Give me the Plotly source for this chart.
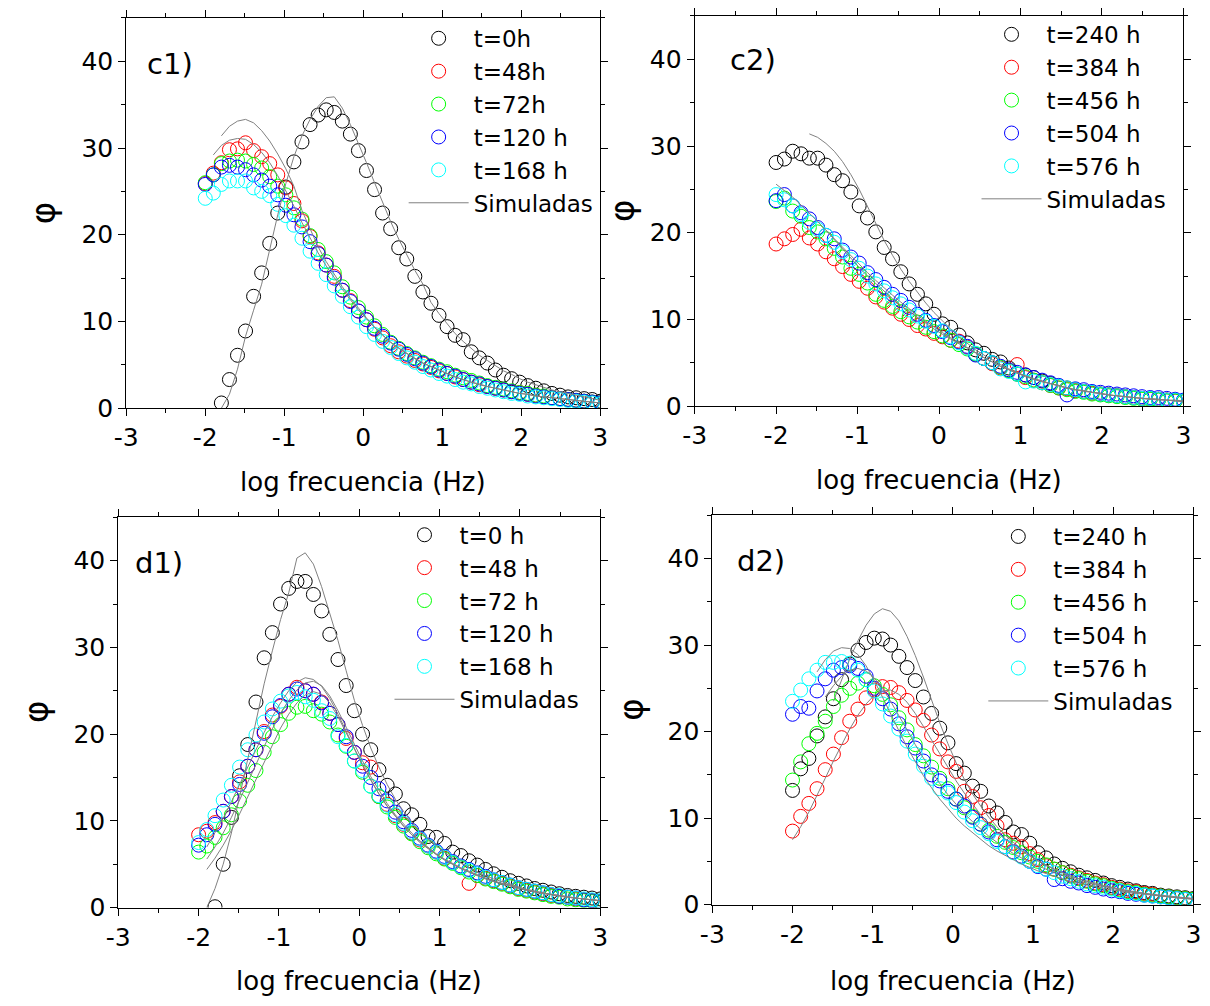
import plotly.graph_objects as go
from plotly.subplots import make_subplots

# log frequency grid shared by every data set (50 points, -2 .. 3)
X = [-2.0, -1.898, -1.796, -1.694, -1.592, -1.49, -1.388, -1.286, -1.184, -1.082,
     -0.98, -0.878, -0.776, -0.673, -0.571, -0.469, -0.367, -0.265, -0.163, -0.061,
     0.041, 0.143, 0.245, 0.347, 0.449, 0.551, 0.653, 0.755, 0.857, 0.959,
     1.061, 1.163, 1.265, 1.367, 1.469, 1.571, 1.673, 1.776, 1.878, 1.98,
     2.082, 2.184, 2.286, 2.388, 2.49, 2.592, 2.694, 2.796, 2.898, 3.0]

XTICKS = [-3, -2, -1, 0, 1, 2, 3]
XTICK_TEXT = ['-3', '-2', '-1', '0', '1', '2', '3']
YTICKS = [0, 10, 20, 30, 40]

# ---------------- c1 ----------------
C1_LABELS = ['t=0h', 't=48h', 't=72h', 't=120 h', 't=168 h']
C1_T0 = [None, None, 0.6, 3.3, 6.1, 8.9, 12.9, 15.6, 19.0, 22.5,
         25.5, 28.4, 30.7, 32.7, 33.8, 34.4, 34.1, 33.1, 31.6, 29.7,
         27.4, 25.2, 22.5, 20.7, 18.5, 17.2, 15.2, 13.4, 12.1, 10.7,
         9.4, 8.4, 7.9, 6.5, 5.8, 5.2, 4.4, 3.8, 3.4, 3.0,
         2.6, 2.3, 2.0, 1.7, 1.5, 1.3, 1.2, 1.1, 1.0, 0.8]
C1_T48 = [25.9, 27.1, 28.3, 29.8, 29.9, 30.6, 29.7, 29.0, 28.2, 26.9,
          25.4, 23.6, 21.6, 19.8, 17.9, 16.5, 15.2, 13.6, 12.4, 11.2,
          10.2, 9.1, 8.1, 7.2, 6.5, 6.0, 5.5, 5.1, 4.7, 4.3,
          4.0, 3.6, 3.3, 3.0, 2.7, 2.5, 2.3, 2.1, 1.9, 1.8,
          1.6, 1.5, 1.3, 1.2, 1.1, 1.0, 0.9, 0.8, 0.7, 0.6]
C1_T72 = [26.0, 26.9, 28.2, 28.5, 28.6, 28.5, 28.1, 27.7, 26.7, 25.6,
          24.6, 23.1, 21.8, 19.9, 18.3, 16.9, 15.6, 14.0, 12.8, 11.6,
          10.5, 9.5, 8.5, 7.6, 6.9, 6.3, 5.8, 5.3, 4.9, 4.5,
          4.2, 3.8, 3.5, 3.2, 2.9, 2.6, 2.4, 2.2, 2.0, 1.8,
          1.7, 1.5, 1.4, 1.2, 1.1, 1.0, 0.9, 0.8, 0.7, 0.6]
C1_T120 = [25.8, 26.9, 27.8, 28.0, 27.8, 27.5, 26.9, 26.3, 25.6, 24.6,
           23.4, 22.3, 20.9, 19.2, 17.8, 16.5, 15.0, 13.6, 12.3, 11.2,
           10.2, 9.2, 8.3, 7.5, 6.8, 6.2, 5.7, 5.2, 4.8, 4.4,
           4.0, 3.7, 3.3, 3.0, 2.8, 2.5, 2.3, 2.1, 1.9, 1.7,
           1.6, 1.4, 1.3, 1.2, 1.1, 1.0, 0.9, 0.8, 0.7, 0.6]
C1_T168 = [24.2, 24.8, 25.8, 26.2, 26.2, 26.2, 25.4, 25.0, 24.5, 23.5,
           22.2, 21.1, 19.6, 18.1, 16.7, 15.4, 14.1, 12.9, 11.7, 10.5,
           9.4, 8.5, 7.7, 7.0, 6.3, 5.8, 5.3, 4.8, 4.4, 4.0,
           3.7, 3.3, 3.0, 2.8, 2.5, 2.3, 2.1, 1.9, 1.7, 1.6,
           1.4, 1.3, 1.2, 1.1, 1.0, 0.9, 0.8, 0.7, 0.6, 0.5]
C1_SIM_T0 = [None, None, 0.0, 1.6, 4.5, 8.3, 11.3, 14.3, 18.3, 22.3,
             25.9, 29.0, 31.4, 33.3, 34.8, 35.8, 35.9, 34.6, 32.7, 30.6,
             28.3, 26.0, 23.7, 21.5, 19.5, 17.6, 15.9, 14.3, 12.2, 10.9,
             9.7, 8.6, 7.7, 6.9, 6.1, 5.5, 4.9, 4.3, 3.9, 3.4,
             3.0, 2.7, 2.4, 2.1, 1.9, 1.7, 1.5, 1.3, 1.1, 0.9]
C1_SIM_T48 = [None, None, 31.4, 32.5, 33.1, 33.3, 32.9, 32.0, 30.8, 29.3,
              27.6, 25.6, 22.8, 20.6, 18.6, 16.9, 15.4, 14.0, 12.7, 11.5,
              10.4, 9.3, 8.4, 7.6, 6.9, 6.3, 5.7, 5.2, 4.8, 4.4,
              4.0, 3.6, 3.3, 3.0, 2.8, 2.5, 2.3, 2.1, 1.9, 1.7,
              1.6, 1.4, 1.3, 1.2, 1.1, 1.0, 0.9, 0.8, 0.7, 0.6]
C1_SIM_T72 = [None, 29.2, 30.3, 30.9, 31.1, 31.0, 30.4, 29.5, 28.3, 26.8,
              25.1, 23.3, 21.4, 19.6, 17.9, 16.4, 15.0, 13.7, 12.5, 11.3,
              10.3, 9.3, 8.4, 7.6, 6.9, 6.3, 5.7, 5.2, 4.8, 4.4,
              4.0, 3.6, 3.3, 3.0, 2.7, 2.5, 2.3, 2.1, 1.9, 1.7,
              1.6, 1.4, 1.3, 1.2, 1.1, 1.0, 0.9, 0.8, 0.7, 0.6]

# ---------------- c2 ----------------
C2_LABELS = ['t=240 h', 't=384 h', 't=456 h', 't=504 h', 't=576 h']
C2_T240 = [28.1, 28.5, 29.4, 29.1, 28.6, 28.6, 27.8, 26.7, 26.0, 24.7,
           23.1, 21.7, 20.1, 18.3, 17.0, 15.5, 14.1, 12.9, 11.8, 10.6,
           9.5, 9.1, 8.2, 7.3, 6.5, 6.1, 5.4, 5.1, 4.4, 3.7,
           3.6, 3.3, 2.9, 2.6, 2.3, 2.1, 1.9, 1.7, 1.6, 1.4,
           1.3, 1.2, 1.1, 1.0, 0.9, 0.9, 0.8, 0.7, 0.7, 0.6]
C2_T384 = [18.7, 19.3, 19.8, 20.4, 19.4, 18.7, 17.8, 17.0, 16.1, 15.2,
           14.4, 13.6, 12.6, 12.0, 11.3, 10.6, 10.0, 9.3, 8.9, 8.4,
           8.0, 7.6, 7.5, 6.8, 6.0, 5.5, 4.9, 4.4, 4.1, 4.8,
           3.3, 3.0, 2.7, 2.4, 2.1, 2.0, 1.8, 1.7, 1.5, 1.4,
           1.3, 1.2, 1.1, 1.0, 0.9, 0.8, 0.8, 0.7, 0.6, 0.6]
C2_T456 = [23.6, 24.0, 22.5, 21.9, 20.6, 20.1, 19.3, 18.2, 17.2, 15.9,
           15.2, 14.2, 12.9, 12.2, 11.5, 10.9, 10.3, 9.7, 9.1, 8.6,
           8.1, 7.6, 7.1, 6.6, 6.0, 5.5, 5.0, 4.5, 4.1, 3.7,
           3.4, 3.0, 2.7, 2.4, 2.1, 1.9, 1.7, 1.6, 1.4, 1.3,
           1.2, 1.1, 1.0, 0.9, 0.8, 0.8, 0.7, 0.6, 0.6, 0.5]
C2_T504 = [23.7, 24.4, 23.1, 22.3, 21.6, 20.6, 19.7, 19.3, 18.0, 17.2,
           16.5, 15.4, 14.6, 13.7, 12.9, 12.2, 11.4, 10.6, 9.9, 9.3,
           8.6, 7.9, 7.4, 6.9, 5.9, 5.5, 5.0, 4.6, 4.2, 3.9,
           3.6, 3.3, 3.0, 2.7, 2.4, 1.3, 2.0, 1.9, 1.7, 1.6,
           1.5, 1.4, 1.3, 1.2, 1.1, 1.0, 1.0, 0.9, 0.8, 0.7]
C2_T576 = [24.4, 23.8, 23.1, 22.1, 21.2, 20.4, 19.7, 18.9, 17.8, 16.9,
           15.9, 15.0, 14.1, 13.3, 12.5, 11.8, 11.1, 10.4, 9.8, 9.2,
           8.7, 8.0, 7.3, 6.7, 6.1, 5.5, 5.0, 4.3, 4.0, 3.7,
           2.8, 2.9, 2.7, 2.5, 2.3, 2.1, 1.9, 1.7, 1.6, 1.4,
           1.3, 1.2, 1.1, 1.0, 0.9, 0.9, 0.8, 0.7, 0.7, 0.6]
C2_SIM_T240 = [None, None, None, None, 31.4, 31.0, 30.3, 29.4, 28.2, 26.7,
               25.0, 23.0, 21.0, 19.1, 17.4, 15.8, 14.4, 13.1, 11.9, 10.8,
               9.8, 8.9, 8.0, 7.2, 6.5, 5.9, 5.3, 4.8, 4.3, 3.9,
               3.5, 3.2, 2.9, 2.6, 2.4, 2.1, 1.9, 1.8, 1.6, 1.5,
               1.3, 1.2, 1.1, 1.0, 0.9, 0.9, 0.8, 0.7, 0.7, 0.6]
C2_SIM_T504 = [25.6, 24.9, 24.1, 23.2, 22.3, 21.3, 20.3, 19.3, 18.3, 17.3,
               16.3, 15.4, 14.5, 13.6, 12.8, 12.0, 11.2, 10.5, 9.8, 9.1,
               8.5, 7.9, 7.3, 6.7, 6.1, 5.6, 5.1, 4.6, 4.2, 3.8,
               3.5, 3.1, 2.9, 2.6, 2.4, 2.1, 1.9, 1.8, 1.6, 1.5,
               1.3, 1.2, 1.1, 1.0, 0.9, 0.8, 0.8, 0.7, 0.6, 0.6]
C2_SIM_T384 = [None, None, None, None, None, None, 20.3, 19.2, 18.1, 17.0,
               16.0, 15.0, 14.1, 13.2, 12.4, 11.6, 10.9, 10.2, 9.5, 8.9,
               8.3, 7.7, 7.2, 6.7, 6.1, 5.6, 5.1, 4.6, 4.2, 3.8,
               3.4, 3.1, 2.8, 2.6, 2.3, 2.1, 1.9, 1.7, 1.6, 1.4,
               1.3, 1.2, 1.1, 1.0, 0.9, 0.8, 0.7, 0.7, 0.6, 0.5]

# ---------------- d1 ----------------
D1_LABELS = ['t=0 h', 't=48 h', 't=72 h', 't=120 h', 't=168 h']
D1_T0 = [None, None, 0.1, 5.0, 10.4, 15.2, 18.8, 23.7, 28.8, 31.7,
         35.0, 36.8, 37.6, 37.6, 36.1, 34.2, 31.5, 28.6, 25.6, 22.7,
         20.0, 18.2, 15.9, 14.1, 13.1, 11.4, 10.7, 9.6, 8.2, 8.1,
         7.4, 6.4, 6.0, 5.4, 4.9, 4.4, 3.9, 3.5, 3.1, 2.8,
         2.5, 2.2, 2.0, 1.8, 1.6, 1.4, 1.3, 1.2, 1.1, 1.0]
D1_T48 = [8.4, 8.8, 9.8, 11.1, 12.8, 14.5, 16.3, 18.2, 20.3, 22.2,
          23.2, 24.6, 25.4, 25.0, 24.6, 23.7, 22.4, 21.1, 19.5, 17.9,
          16.7, 16.2, 12.8, 11.9, 10.6, 9.6, 8.6, 7.8, 7.1, 6.4,
          5.7, 5.2, 4.7, 2.8, 3.7, 3.4, 3.1, 2.8, 2.5, 2.2,
          2.0, 1.8, 1.6, 1.4, 1.3, 1.2, 1.0, 0.9, 0.8, 0.7]
D1_T72 = [6.4, 7.1, 8.1, 9.2, 10.7, 12.3, 14.1, 15.8, 17.9, 19.7,
          21.1, 22.4, 23.1, 23.2, 22.7, 22.3, 21.4, 19.9, 18.6, 16.9,
          15.6, 14.0, 12.8, 11.6, 10.4, 9.4, 8.5, 7.6, 6.9, 6.2,
          5.6, 5.1, 4.6, 4.1, 3.7, 3.3, 3.0, 2.7, 2.4, 2.1,
          1.9, 1.7, 1.5, 1.3, 1.2, 1.0, 0.9, 0.8, 0.7, 0.6]
D1_T120 = [7.2, 8.4, 9.6, 11.1, 12.8, 14.2, 16.3, 18.2, 20.1, 22.0,
           23.3, 24.6, 25.2, 25.0, 24.6, 23.6, 22.4, 21.1, 19.7, 17.9,
           16.3, 15.0, 13.7, 12.3, 11.0, 9.9, 8.9, 8.0, 7.2, 6.5,
           5.9, 5.3, 4.8, 4.4, 4.0, 3.6, 3.2, 2.9, 2.6, 2.3,
           2.1, 1.9, 1.7, 1.5, 1.3, 1.2, 1.1, 0.9, 0.8, 0.7]
D1_T168 = [7.5, 9.0, 10.6, 12.4, 14.1, 16.2, 18.2, 19.9, 21.4, 22.9,
           23.8, 24.4, 24.8, 24.3, 23.9, 22.7, 21.8, 19.7, 18.7, 16.9,
           15.8, 14.0, 12.9, 11.8, 10.7, 9.7, 8.7, 7.9, 7.1, 6.4,
           5.8, 5.2, 4.7, 4.3, 3.9, 3.5, 3.2, 2.9, 2.6, 2.3,
           2.1, 1.9, 1.7, 1.5, 1.4, 1.2, 1.1, 1.0, 0.9, 0.8]
D1_SIM_T0 = [None, 0.0, 2.2, 5.0, 8.6, 12.8, 17.2, 21.6, 25.8, 29.6,
             33.2, 36.3, 40.3, 40.9, 39.6, 37.0, 34.0, 30.8, 27.3, 23.9,
             21.0, 18.4, 16.2, 14.2, 12.5, 11.1, 9.9, 8.8, 7.9, 7.1,
             6.4, 5.7, 5.1, 4.6, 4.1, 3.7, 3.3, 3.0, 2.7, 2.4,
             2.1, 1.9, 1.7, 1.5, 1.4, 1.2, 1.1, 1.0, 0.9, 0.8]
D1_SIM_T48 = [None, 7.0, 8.6, 10.3, 12.2, 14.2, 16.3, 18.3, 20.2, 22.0,
              23.6, 25.0, 26.0, 26.5, 26.3, 25.5, 24.1, 22.3, 20.3, 18.3,
              16.4, 14.7, 13.1, 11.7, 10.5, 9.4, 8.4, 7.5, 6.8, 6.1,
              5.5, 5.0, 4.5, 4.1, 3.7, 3.4, 3.0, 2.8, 2.5, 2.3,
              2.0, 1.8, 1.7, 1.5, 1.4, 1.2, 1.1, 1.0, 0.9, 0.8]
D1_SIM_T120 = [None, 5.6, 7.0, 8.6, 10.4, 12.4, 14.5, 16.6, 18.7, 20.6,
               22.4, 23.9, 25.1, 25.9, 26.1, 25.6, 24.4, 22.7, 20.8, 18.8,
               16.9, 15.1, 13.5, 12.0, 10.7, 9.6, 8.6, 7.7, 6.9, 6.2,
               5.6, 5.1, 4.6, 4.2, 3.8, 3.4, 3.1, 2.8, 2.6, 2.3,
               2.1, 1.9, 1.7, 1.5, 1.4, 1.3, 1.1, 1.0, 0.9, 0.8]
D1_SIM_T72 = [None, 4.4, 5.7, 7.2, 8.9, 10.8, 12.8, 14.9, 16.9, 18.9,
              20.7, 22.3, 23.6, 24.5, 24.9, 24.6, 23.6, 22.0, 20.2, 18.3,
              16.4, 14.7, 13.1, 11.7, 10.5, 9.4, 8.4, 7.6, 6.8, 6.1,
              5.5, 5.0, 4.5, 4.1, 3.7, 3.3, 3.0, 2.7, 2.5, 2.2,
              2.0, 1.8, 1.6, 1.5, 1.3, 1.2, 1.1, 1.0, 0.9, 0.8]

# ---------------- d2 ----------------
D2_LABELS = ['t=240 h', 't=384 h', 't=456 h', 't=504 h', 't=576 h']
D2_T240 = [13.2, 15.7, 16.9, 19.5, 21.7, 23.8, 26.0, 27.8, 29.4, 30.3,
           30.8, 30.7, 30.0, 28.7, 27.4, 25.9, 24.0, 22.1, 20.4, 18.7,
           16.3, 15.2, 13.7, 13.1, 11.4, 10.6, 9.5, 8.4, 8.1, 7.1,
           6.0, 5.4, 4.7, 4.2, 3.8, 3.4, 3.1, 2.8, 2.5, 2.2,
           2.0, 1.8, 1.6, 1.4, 1.3, 1.1, 1.0, 0.9, 0.8, 0.7]
D2_T384 = [8.5, 10.2, 11.7, 13.4, 15.6, 17.4, 19.3, 21.2, 22.6, 23.9,
           24.8, 25.2, 25.1, 24.5, 23.6, 22.5, 21.3, 19.6, 18.0, 16.5,
           15.4, 13.1, 12.5, 11.2, 10.3, 9.1, 7.5, 7.1, 6.7, 5.9,
           5.2, 4.5, 4.1, 3.7, 3.4, 3.1, 2.8, 2.5, 2.3, 2.0,
           1.8, 1.6, 1.5, 1.3, 1.2, 1.0, 0.9, 0.8, 0.7, 0.6]
D2_T456 = [14.4, 16.5, 18.6, 19.8, 21.2, 22.9, 24.2, 25.0, 25.6, 26.0,
           25.3, 24.3, 23.1, 21.6, 20.2, 18.5, 17.2, 15.9, 14.6, 13.4,
           12.2, 11.2, 10.2, 9.3, 8.6, 7.9, 7.2, 6.6, 6.0, 5.5,
           5.0, 4.6, 4.1, 3.7, 3.3, 3.0, 2.7, 2.4, 2.2, 1.9,
           1.7, 1.5, 1.4, 1.2, 1.1, 1.0, 0.9, 0.8, 0.7, 0.6]
D2_T504 = [22.0, 22.9, 22.7, 24.7, 26.1, 27.1, 27.4, 27.6, 27.3, 26.4,
           25.0, 23.8, 22.6, 20.9, 19.4, 18.1, 16.6, 15.0, 14.3, 13.1,
           12.2, 11.4, 10.1, 9.3, 8.4, 7.5, 6.7, 6.1, 5.6, 5.0,
           4.4, 4.1, 2.9, 3.0, 2.7, 2.5, 2.2, 2.0, 1.8, 1.6,
           1.5, 1.3, 1.2, 1.1, 1.0, 0.9, 0.8, 0.7, 0.6, 0.5]
D2_T576 = [23.5, 24.8, 26.1, 27.1, 28.0, 28.0, 28.1, 27.9, 27.1, 26.0,
           24.7, 23.2, 21.8, 20.3, 18.9, 17.4, 16.0, 14.6, 13.4, 12.9,
           11.8, 10.7, 9.7, 8.9, 8.2, 7.3, 6.7, 6.0, 5.5, 5.0,
           4.5, 4.1, 3.7, 3.3, 3.0, 2.7, 2.4, 2.2, 2.0, 1.8,
           1.6, 1.4, 1.3, 1.1, 1.0, 0.9, 0.8, 0.7, 0.6, 0.5]
D2_SIM_T240 = [None, None, None, None, None, 23.5, 26.0, 28.4, 30.5, 32.3,
               33.6, 34.2, 33.9, 32.8, 31.0, 28.8, 26.3, 23.6, 21.0, 18.6,
               16.4, 14.5, 12.8, 11.4, 10.1, 9.0, 8.0, 7.2, 6.4, 5.7,
               5.1, 4.6, 4.1, 3.7, 3.3, 3.0, 2.7, 2.4, 2.2, 2.0,
               1.8, 1.6, 1.4, 1.3, 1.2, 1.0, 0.9, 0.8, 0.8, 0.7]
D2_SIM_T384 = [7.5, 9.0, 10.7, 12.6, 14.6, 16.6, 18.5, 20.3, 21.9, 23.2,
               24.2, 24.7, 24.8, 24.3, 23.4, 22.1, 20.6, 19.0, 17.4, 15.8,
               14.3, 12.9, 11.6, 10.4, 9.4, 8.4, 7.6, 6.8, 6.2, 5.6,
               5.0, 4.5, 4.1, 3.7, 3.3, 3.0, 2.7, 2.5, 2.2, 2.0,
               1.8, 1.6, 1.5, 1.3, 1.2, 1.1, 1.0, 0.9, 0.8, 0.7]
D2_SIM_T456 = [None, None, None, None, 24.0, 25.3, 26.4, 27.1, 27.3, 27.0,
               26.2, 25.0, 23.5, 21.9, 20.2, 18.5, 16.9, 15.4, 14.0, 12.7,
               11.6, 10.5, 9.6, 8.7, 7.9, 7.2, 6.5, 5.9, 5.4, 4.9,
               4.5, 4.1, 3.7, 3.4, 3.1, 2.8, 2.5, 2.3, 2.1, 1.9,
               1.7, 1.5, 1.4, 1.3, 1.1, 1.0, 0.9, 0.8, 0.7, 0.7]
D2_SIM_T576 = [None, None, None, 26.9, 28.3, 29.3, 29.7, 29.6, 28.9, 27.6,
               25.9, 24.0, 22.0, 20.1, 18.2, 16.5, 14.9, 13.5, 12.2, 11.1,
               10.0, 9.1, 8.3, 7.5, 6.8, 6.2, 5.7, 5.2, 4.7, 4.3,
               3.9, 3.6, 3.3, 3.0, 2.7, 2.5, 2.3, 2.1, 1.9, 1.7,
               1.6, 1.4, 1.3, 1.2, 1.1, 1.0, 0.9, 0.8, 0.7, 0.6]

COLORS = ['#000000', '#ff0000', '#00ff00', '#0000ff', '#00ffff']
SIM_COLOR = '#808080'
FONT = 'DejaVu Sans'

PANELS = [
    dict(tag='c1)', labels=C1_LABELS,
         series=[C1_T0, C1_T48, C1_T72, C1_T120, C1_T168],
         sims=[C1_SIM_T0, C1_SIM_T48, C1_SIM_T72],
         xdom=[0.0893, 0.4876], ydom=[0.5974, 0.9920],
         leg=(0.3224, 0.9931), tagpos=(-2.76, 39.7),
         xtitle_y=0.5229, phi_x=0.0194),
    dict(tag='c2)', labels=C2_LABELS,
         series=[C2_T240, C2_T384, C2_T456, C2_T504, C2_T576],
         sims=[C2_SIM_T240, C2_SIM_T504, C2_SIM_T384],
         xdom=[0.5669, 0.9777], ydom=[0.5994, 0.9940],
         leg=(0.8038, 0.9971), tagpos=(-2.59, 39.9),
         xtitle_y=0.5244, phi_x=0.5058),
    dict(tag='d1)', labels=D1_LABELS,
         series=[D1_T0, D1_T48, D1_T72, D1_T120, D1_T168],
         sims=[D1_SIM_T0, D1_SIM_T48, D1_SIM_T120, D1_SIM_T72],
         xdom=[0.0826, 0.4876], ydom=[0.0924, 0.4871],
         leg=(0.3105, 0.4911), tagpos=(-2.82, 39.7),
         xtitle_y=0.0179, phi_x=0.0140),
    dict(tag='d2)', labels=D2_LABELS,
         series=[D2_T240, D2_T384, D2_T456, D2_T504, D2_T576],
         sims=[D2_SIM_T240, D2_SIM_T384, D2_SIM_T456, D2_SIM_T576],
         xdom=[0.5818, 0.9860], ydom=[0.0954, 0.4891],
         leg=(0.8095, 0.4894), tagpos=(-2.72, 39.7),
         xtitle_y=0.0179, phi_x=0.5132),
]

fig = make_subplots(rows=2, cols=2)
cells = [(1, 1), (1, 2), (2, 1), (2, 2)]

for i, (p, (r, c)) in enumerate(zip(PANELS, cells)):
    legname = 'legend' if i == 0 else f'legend{i + 1}'
    for name, ys, col in zip(p['labels'], p['series'], COLORS):
        fig.add_trace(go.Scatter(
            x=X, y=ys, mode='markers', name=name, legend=legname,
            marker=dict(symbol='circle-open', size=14, color=col,
                        line=dict(width=1, color=col)),
        ), row=r, col=c)
    for k, ys in enumerate(p['sims']):
        fig.add_trace(go.Scatter(
            x=X, y=ys, mode='lines', name='Simuladas', legend=legname,
            showlegend=(k == 0), line=dict(color=SIM_COLOR, width=1),
        ), row=r, col=c)

    xa = 'xaxis' if i == 0 else f'xaxis{i + 1}'
    ya = 'yaxis' if i == 0 else f'yaxis{i + 1}'
    fig.layout[xa].update(domain=p['xdom'])
    fig.layout[ya].update(domain=p['ydom'])

    fig.layout[legname] = dict(
        x=p['leg'][0], y=p['leg'][1], xanchor='left', yanchor='top',
        bgcolor='rgba(0,0,0,0)', borderwidth=0, itemwidth=60,
        font=dict(family=FONT, size=23, color='black'),
        tracegroupgap=0,
    )

    xref = 'x' if i == 0 else f'x{i + 1}'
    yref = 'y' if i == 0 else f'y{i + 1}'
    # panel tag
    fig.add_annotation(x=p['tagpos'][0], y=p['tagpos'][1], xref=xref, yref=yref,
                       text=p['tag'], showarrow=False, xanchor='left', yanchor='middle',
                       font=dict(family=FONT, size=29, color='black'))
    # axis titles
    fig.add_annotation(x=0.5, y=p['xtitle_y'], xref=f'{xref} domain', yref='paper',
                       text='log frecuencia (Hz)', showarrow=False,
                       xanchor='center', yanchor='middle',
                       font=dict(family=FONT, size=26, color='black'))
    fig.add_annotation(x=p['phi_x'], y=0.5, xref='paper', yref=f'{yref} domain',
                       text='φ', showarrow=False, textangle=-90,
                       xanchor='center', yanchor='middle',
                       font=dict(family=FONT, size=34, color='black'))

fig.update_xaxes(range=[-3, 3], tickvals=XTICKS, ticktext=XTICK_TEXT,
                 showline=True, linecolor='black', linewidth=1, mirror='ticks',
                 ticks='outside', ticklen=7, tickwidth=1, tickcolor='black',
                 showgrid=False, zeroline=False,
                 tickfont=dict(family=FONT, size=25, color='black'),
                 minor=dict(ticks='outside', ticklen=4, tickcolor='black', dtick=0.5, tick0=0, showgrid=False))
fig.update_yaxes(range=[0, 45], tickvals=YTICKS,
                 showline=True, linecolor='black', linewidth=1, mirror='ticks',
                 ticks='outside', ticklen=7, tickwidth=1, tickcolor='black',
                 showgrid=False, zeroline=False,
                 tickfont=dict(family=FONT, size=25, color='black'),
                 minor=dict(ticks='outside', ticklen=4, tickcolor='black', dtick=5, tick0=0, showgrid=False))

fig.update_layout(width=1210, height=1006, margin=dict(l=0, r=0, t=0, b=0),
                  paper_bgcolor='white', plot_bgcolor='white', showlegend=True)

fig.write_html('out.html')
